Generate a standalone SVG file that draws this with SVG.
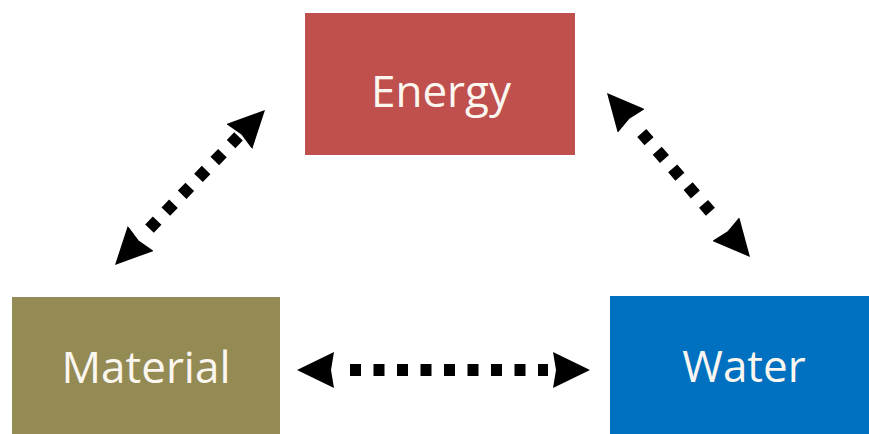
<svg xmlns="http://www.w3.org/2000/svg" width="869" height="434" viewBox="0 0 869 434">
  <style>
    .label { font-family: "Open Sans", "Liberation Sans", sans-serif; font-size: 44px; fill: #fbf7f0; text-anchor: middle; }
    .dots { fill: none; stroke: #000; stroke-width: 12; stroke-dasharray: 11 12.5; }
    .heads { fill: none; stroke: none; marker-start: url(#head); marker-end: url(#head); }
  </style>
  <defs>
    <marker id="head" markerUnits="userSpaceOnUse" markerWidth="38" markerHeight="36" refX="37" refY="18" orient="auto-start-reverse">
      <path d="M0,0 L37,18 L0,36 L3,18 Z" fill="#000"/>
    </marker>
  </defs>
  <rect width="869" height="434" fill="#fff"/>
  <g id="energy">
    <rect x="305" y="13" width="270" height="142" fill="#C0504D"/>
    <text class="label" x="441" y="107">Energy</text>
  </g>
  <g id="material">
    <rect x="12" y="297" width="268" height="137" fill="#948A54"/>
    <text class="label" x="146" y="383">Material</text>
  </g>
  <g id="water">
    <rect x="610" y="296" width="259" height="138" fill="#0070C0"/>
    <text class="label" x="744" y="382">Water</text>
  </g>
  <g id="connectors">
    <path class="dots" d="M149.5,228.6 L238.5,136.4"/>
    <path class="heads" d="M115,265 L265,110"/>
    <path class="dots" d="M641.8,133 L710.4,211.7"/>
    <path class="heads" d="M607,93 L750,257"/>
    <path class="dots" d="M350,370 L548,370"/>
    <path class="heads" d="M297,370 L590,370"/>
  </g>
</svg>
